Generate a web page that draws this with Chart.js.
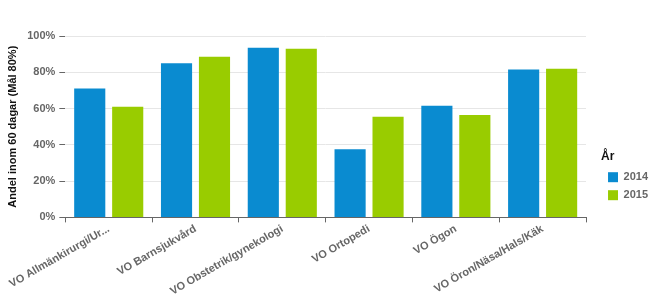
<!DOCTYPE html>
<html>
<head>
<meta charset="utf-8">
<script src="https://cdn.jsdelivr.net/npm/chart.js@4/dist/chart.umd.min.js"></script>
<style>
  html, body { margin: 0; padding: 0; background: #fff; }
  #wrap { width: 659px; height: 302px; }
</style>
</head>
<body>
<div id="wrap"><canvas id="chart"></canvas></div>
<script>
// data
var categories = ['VO Allmänkirurgi/Ur...', 'VO Barnsjukvård', 'VO Obstetrik/gynekologi', 'VO Ortopedi', 'VO Ögon', 'VO Öron/Näsa/Hals/Käk'];
var years = ['2014', '2015'];
var values2014 = [71, 85, 93.5, 37.5, 61.5, 81.5];
var values2015 = [61, 88.5, 93, 55.5, 56.5, 82];
var yTicks = [0, 20, 40, 60, 80, 100];

var colors = ['#0a8bd0', '#99cc00'];
var fontFam = '"Liberation Sans", Arial, sans-serif';

// leave a gap between the plot and the legend on the right
var GAP = 15;
var legendGap = {
  id: 'legendGap',
  beforeLayout: function(chart) {
    var lg = chart.legend;
    if (lg && !lg._gapPatched) {
      lg._gapPatched = true;
      var origFit = lg.fit;
      lg.fit = function() {
        origFit.apply(this, arguments);
        this.width += GAP;
      };
    }
  },
  afterLayout: function(chart) {
    if (chart.legend) chart.legend.left += GAP;
  }
};

var ctx = document.getElementById('chart').getContext('2d');
var chart = new Chart(ctx, {
  type: 'bar',
  data: {
    labels: categories,
    datasets: [
      { label: years[0], data: values2014, backgroundColor: colors[0] },
      { label: years[1], data: values2015, backgroundColor: colors[1] }
    ]
  },
  plugins: [legendGap],
  options: {
    responsive: true,
    maintainAspectRatio: false,
    animation: false,
    datasets: { bar: { categoryPercentage: 0.875, barPercentage: 0.82 } },
    layout: { padding: { top: 36, right: 1, left: 6, bottom: 4 } },
    plugins: {
      tooltip: { enabled: false },
      legend: {
        position: 'right',
        align: 'center',
        title: {
          display: true,
          text: 'År',
          position: 'start',
          color: '#111',
          font: { family: fontFam, size: 12, weight: 'bold' },
          padding: { top: 24, bottom: 0 }
        },
        labels: {
          boxWidth: 10,
          boxHeight: 10,
          padding: 7,
          color: '#666',
          font: { family: fontFam, size: 11, weight: 'bold' }
        }
      }
    },
    scales: {
      x: {
        border: { display: true, color: '#666' },
        grid: { drawOnChartArea: false, offset: true, tickLength: 5, tickColor: '#666' },
        ticks: {
          color: '#666',
          font: { family: fontFam, size: 11, weight: 'bold' },
          minRotation: 30,
          maxRotation: 30,
          autoSkip: false,
          padding: 0
        }
      },
      y: {
        min: 0,
        max: 100,
        border: { display: false },
        grid: { color: '#e6e6e6', tickLength: 6, tickColor: '#666' },
        afterBuildTicks: function(axis) {
          axis.ticks = yTicks.map(function(v) { return { value: v }; });
        },
        ticks: {
          color: '#666',
          font: { family: fontFam, size: 11, weight: 'bold' },
          padding: 4,
          callback: function(v) { return v + '%'; }
        },
        title: {
          display: true,
          text: 'Andel inom 60 dagar (Mål 80%)',
          color: '#111',
          font: { family: fontFam, size: 11, weight: 'bold' },
          padding: { top: 0, bottom: 4 }
        }
      }
    }
  }
});
</script>
</body>
</html>
